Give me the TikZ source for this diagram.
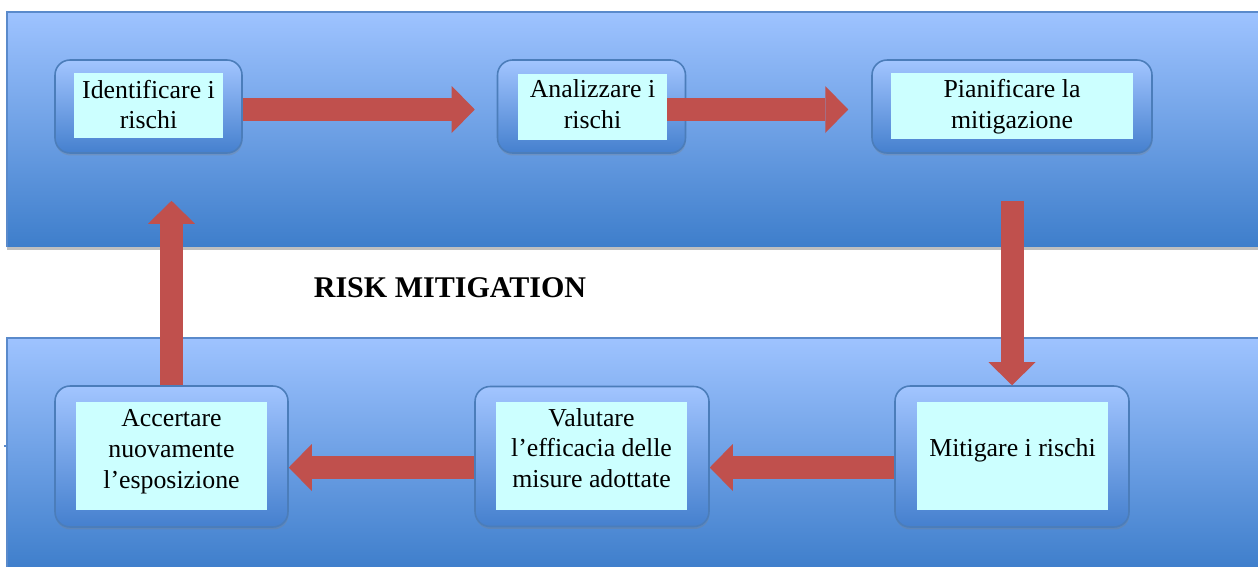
\documentclass[tikz,border=0pt]{standalone}
\usepackage{fontspec}
\setmainfont{Liberation Serif}
\usetikzlibrary{arrows.meta,shadows}

\definecolor{bandtop}{HTML}{9EC3FF}
\definecolor{bandbot}{HTML}{3E7ECB}
\definecolor{bandedge}{HTML}{5A8ACB}
\definecolor{boxtop}{HTML}{A2C5FF}
\definecolor{boxbot}{HTML}{4580CE}
\definecolor{boxedge}{HTML}{4B7DBA}
\definecolor{cellfill}{HTML}{CCFFFF}
\definecolor{flowred}{HTML}{C0504D}

\tikzset{
  band/.style={top color=bandtop, bottom color=bandbot},
  stage/.style={rounded corners=0.3cm, top color=boxtop, bottom color=boxbot, draw=boxedge, line width=0.9pt,
    drop shadow={shadow xshift=0.01cm, shadow yshift=-0.05cm, opacity=0.3}, inner sep=0pt},
  cell/.style={fill=cellfill, inner sep=0pt},
  steptext/.style={align=center, inner sep=0pt, font=\fontsize{14.7}{17.5}\selectfont},
  flow/.style={draw=flowred, line width=0.46cm, -{Triangle[width=0.94cm, length=0.46cm, line width=0pt]}},
}

\begin{document}
\begin{tikzpicture}[x=0.02cm, y=-0.02cm]
\useasboundingbox (0,0) rectangle (1258,566);

% background bands
\fill[band] (7,12) rectangle (1262,247);
\fill[black!25] (7,247) rectangle (1262,250);
\draw[bandedge, line width=0.6pt] (7,247) -- (7,12) -- (1262,12);
\fill[band] (7,338) rectangle (1262,570);
\draw[bandedge, line width=0.6pt] (7,570) -- (7,338) -- (1262,338);
\draw[bandedge, line width=1.2pt] (4,446) -- (8,446);
%

% upper row
\node[stage, minimum width=3.74cm, minimum height=1.86cm] (ident) at (148.5,106.5) {};
\node[cell, minimum width=2.98cm, minimum height=1.3cm] (identC) at (148.5,105.5) {};
\node[steptext] (identT) at (148.5,104.5) {Identificare i\\rischi};
\node[stage, minimum width=3.76cm, minimum height=1.86cm] (analiz) at (591.5,106.5) {};
\node[cell, minimum width=2.98cm, minimum height=1.32cm] (analizC) at (592.5,106.5) {};
\node[steptext] (analizT) at (592.5,104.5) {Analizzare i\\rischi};
\node[stage, minimum width=5.6cm, minimum height=1.86cm] (pianif) at (1012,106.5) {};
\node[cell, minimum width=4.84cm, minimum height=1.32cm] (pianifC) at (1012,106) {};
\node[steptext] (pianifT) at (1012,107) {Pianificare la\\mitigazione};
%

% lower row
\node[stage, minimum width=4.66cm, minimum height=2.82cm] (accert) at (171.5,456.5) {};
\node[cell, minimum width=3.82cm, minimum height=2.16cm] (accertC) at (171.5,456) {};
\node[steptext] (accertT) at (171.5,451.5) {Accertare\\nuovamente\\l’esposizione};
\node[stage, minimum width=4.68cm, minimum height=2.8cm] (valut) at (592,456.5) {};
\node[cell, minimum width=3.82cm, minimum height=2.16cm] (valutC) at (591.5,456) {};
\node[steptext] (valutT) at (591.5,448) {Valutare\\l’efficacia delle\\misure adottate};
\node[stage, minimum width=4.68cm, minimum height=2.82cm] (mitig) at (1012,456.5) {};
\node[cell, minimum width=3.82cm, minimum height=2.16cm] (mitigC) at (1012.5,456) {};
\node[steptext] (mitigT) at (1012.5,450) {Mitigare i rischi};
%

% cycle arrows
\draw[flow, shorten >=0.44cm] ([yshift=-0.06cm]ident.east) -- ([yshift=-0.06cm]analiz.west);
\draw[flow, shorten >=0.46cm] ([yshift=-0.06cm]analizC.east) -- ([yshift=-0.06cm]analizC.east -| pianif.west);
\draw[flow, shorten <=0.94cm] (pianif.south) -- (mitig.north);
\draw[flow] ([yshift=-0.22cm]mitig.west) -- ([yshift=-0.22cm]valut.east);
\draw[flow] ([yshift=-0.22cm]valut.west) -- ([yshift=-0.22cm]accert.east);
\draw[flow, shorten >=0.94cm] (accert.north) -- (accert.north |- ident.south);

% title
\node[font=\bfseries\fontsize{17.1}{20}\selectfont, anchor=base] (title) at (450,297) {RISK MITIGATION};
\end{tikzpicture}
\end{document}
